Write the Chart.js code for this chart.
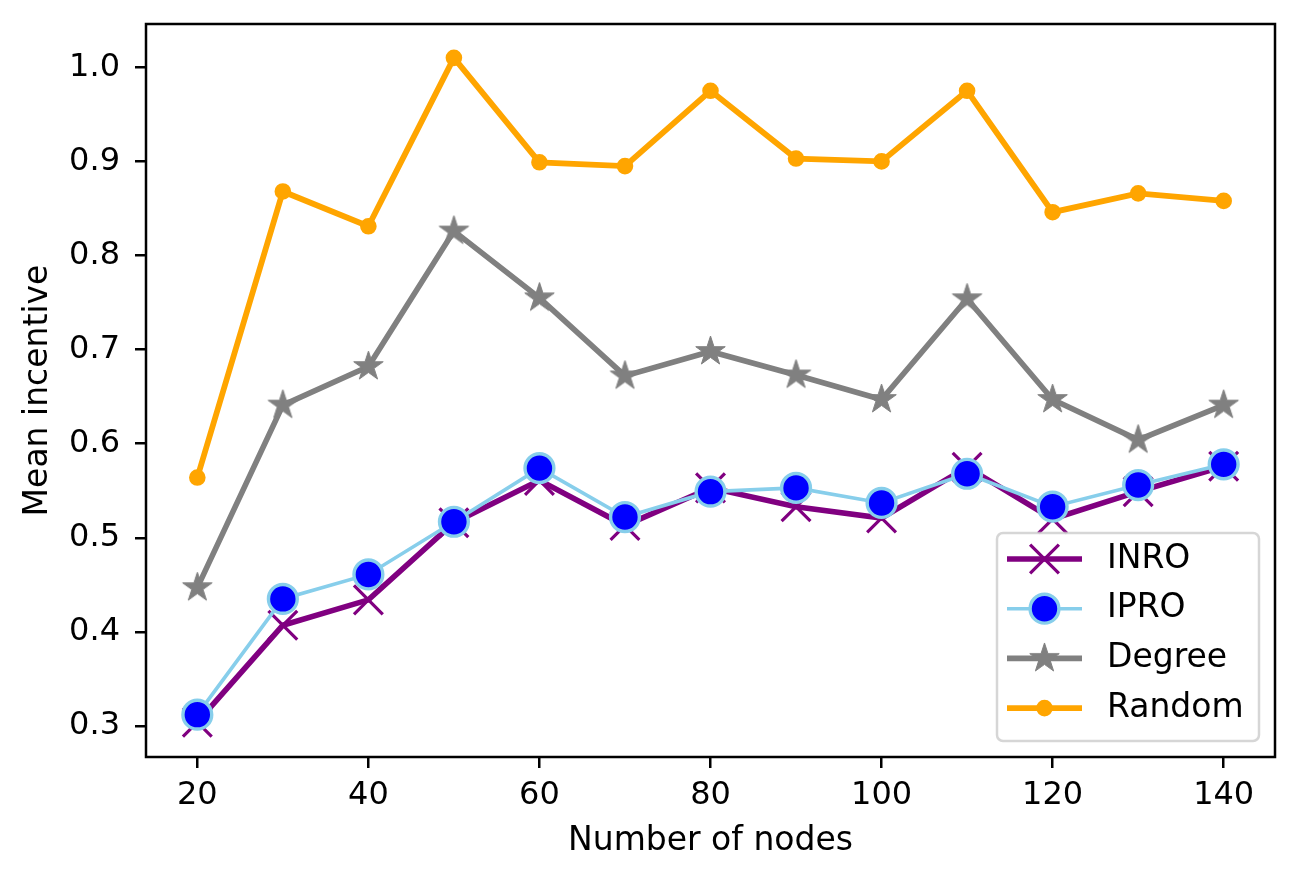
<!DOCTYPE html>
<html>
<head>
<meta charset="utf-8">
<script src="https://cdn.jsdelivr.net/npm/chart.js@4.4.1/dist/chart.umd.min.js"></script>
<style>
html,body{margin:0;padding:0;background:#fff;}
#wrap{width:1295px;height:879px;position:relative;}
</style>
</head>
<body>
<div id="wrap"><canvas id="c" width="1295" height="879"></canvas></div>
<script>
// ---- data ----
const nodes  = [20, 30, 40, 50, 60, 70, 80, 90, 100, 110, 120, 130, 140];
const inro   = [0.304, 0.407, 0.434, 0.516, 0.561, 0.513, 0.553, 0.533, 0.521, 0.575, 0.520, 0.549, 0.576];
const ipro   = [0.312, 0.435, 0.461, 0.517, 0.574, 0.522, 0.549, 0.553, 0.537, 0.568, 0.533, 0.556, 0.578];
const degree = [0.447, 0.641, 0.682, 0.826, 0.755, 0.672, 0.698, 0.673, 0.647, 0.754, 0.647, 0.604, 0.641];
const random = [0.564, 0.868, 0.831, 1.010, 0.899, 0.895, 0.975, 0.903, 0.900, 0.975, 0.846, 0.866, 0.858];
const xTicks = [20, 40, 60, 80, 100, 120, 140];
const yTicks = [0.3, 0.4, 0.5, 0.6, 0.7, 0.8, 0.9, 1.0];
const seriesNames = ['INRO', 'IPRO', 'Degree', 'Random'];
const xTitle = 'Number of nodes';
const yTitle = 'Mean incentive';

const FONT = 'DejaVu Sans';

function makeStar(R, color) {
  const size = Math.ceil(R * 2 + 6);
  const c = document.createElement('canvas');
  c.width = size; c.height = size;
  const g = c.getContext('2d');
  const cx = size / 2, cy = size / 2, r = R * 0.381966;
  g.beginPath();
  for (let i = 0; i < 10; i++) {
    const a = -Math.PI / 2 + i * Math.PI / 5;
    const rr = (i % 2) ? r : R;
    g.lineTo(cx + rr * Math.cos(a), cy + rr * Math.sin(a));
  }
  g.closePath();
  g.fillStyle = color; g.fill();
  g.lineWidth = 1; g.strokeStyle = color; g.stroke();
  return c;
}
const starImg = makeStar(15.5, '#808080');

const styles = {
  INRO:   {line: '#800080', lw: 5.6, marker: 'x', mr: 14.4, mfill: '#800080', medge: '#800080', mew: 3.2, order: 4},
  IPRO:   {line: '#87CEEB', lw: 3.6, marker: 'o', mr: 14.4, mfill: '#0000FF', medge: '#87CEEB', mew: 3.4, order: 3},
  Degree: {line: '#808080', lw: 5.6, marker: 'star', mr: 15.5, mfill: '#808080', medge: '#808080', mew: 1, order: 2},
  Random: {line: '#FFA500', lw: 5.8, marker: 'o', mr: 7, mfill: '#FFA500', medge: '#FFA500', mew: 2.6, order: 1}
};
const seriesValues = {INRO: inro, IPRO: ipro, Degree: degree, Random: random};

function chartPointStyle(s) {
  if (s.marker === 'x') return 'crossRot';
  if (s.marker === 'star') return starImg;
  return 'circle';
}
function chartPointRadius(s) {
  if (s.marker === 'x') return s.mr / Math.SQRT1_2;
  return s.mr;
}

const datasets = seriesNames.map(name => {
  const s = styles[name];
  const vals = seriesValues[name];
  return {
    label: name,
    data: nodes.map((x, i) => ({x: x, y: vals[i]})),
    borderColor: s.line,
    backgroundColor: s.line,
    borderWidth: s.lw,
    tension: 0,
    fill: false,
    pointStyle: chartPointStyle(s),
    pointRadius: chartPointRadius(s),
    pointHoverRadius: chartPointRadius(s),
    pointBackgroundColor: s.mfill,
    pointBorderColor: s.medge,
    pointBorderWidth: s.mew,
    pointHoverBorderWidth: s.mew,
    order: s.order,
    clip: false
  };
});

function drawMarker(ctx, s, x, y) {
  ctx.save();
  if (s.marker === 'x') {
    ctx.strokeStyle = s.medge; ctx.lineWidth = s.mew; ctx.lineCap = 'butt';
    ctx.beginPath();
    ctx.moveTo(x - s.mr, y - s.mr); ctx.lineTo(x + s.mr, y + s.mr);
    ctx.moveTo(x + s.mr, y - s.mr); ctx.lineTo(x - s.mr, y + s.mr);
    ctx.stroke();
  } else if (s.marker === 'star') {
    ctx.drawImage(starImg, x - starImg.width / 2, y - starImg.height / 2);
  } else {
    ctx.beginPath(); ctx.arc(x, y, s.mr, 0, Math.PI * 2);
    ctx.fillStyle = s.mfill; ctx.fill();
    ctx.lineWidth = s.mew; ctx.strokeStyle = s.medge; ctx.stroke();
  }
  ctx.restore();
}

function roundRectPath(ctx, x, y, w, h, r) {
  ctx.beginPath();
  ctx.moveTo(x + r, y);
  ctx.lineTo(x + w - r, y); ctx.arcTo(x + w, y, x + w, y + r, r);
  ctx.lineTo(x + w, y + h - r); ctx.arcTo(x + w, y + h, x + w - r, y + h, r);
  ctx.lineTo(x + r, y + h); ctx.arcTo(x, y + h, x, y + h - r, r);
  ctx.lineTo(x, y + r); ctx.arcTo(x, y, x + r, y, r);
  ctx.closePath();
}

const framePlugin = {
  id: 'frameAndLegend',
  afterDatasetsDraw(chart) {
    const {ctx, chartArea: a} = chart;
    ctx.save();
    ctx.strokeStyle = '#000'; ctx.lineWidth = 2.5;
    ctx.strokeRect(a.left, a.top, a.right - a.left, a.bottom - a.top);
    ctx.restore();
  },
  afterDraw(chart) {
    const {ctx, chartArea: a} = chart;
    const w = 262, h = 208;
    const bx = a.right - 16 - w, by = a.bottom - 16 - h;
    ctx.save();
    roundRectPath(ctx, bx, by, w, h, 6);
    ctx.fillStyle = 'rgba(255,255,255,0.8)'; ctx.fill();
    ctx.lineWidth = 2.5; ctx.strokeStyle = 'rgba(204,204,204,0.8)'; ctx.stroke();
    seriesNames.forEach((name, i) => {
      const s = styles[name];
      const y = by + 26 + i * 49.7;
      ctx.beginPath();
      ctx.moveTo(bx + 10, y); ctx.lineTo(bx + 85, y);
      ctx.strokeStyle = s.line; ctx.lineWidth = s.lw; ctx.lineCap = 'butt'; ctx.stroke();
      drawMarker(ctx, s, bx + 47.5, y);
      ctx.fillStyle = '#000';
      ctx.font = '33px "' + FONT + '"';
      ctx.textBaseline = 'middle'; ctx.textAlign = 'left';
      ctx.fillText(name, bx + 110, y);
    });
    ctx.restore();
  }
};

const tickFont = {family: FONT, size: 32};
const titleFont = {family: FONT, size: 33};
const gridOpts = {drawOnChartArea: false, drawTicks: true, tickLength: 11, tickWidth: 2.5, tickColor: '#000', color: '#000', lineWidth: 2.5};

function zeroPad(s) { s.paddingTop = 0; s.paddingBottom = 0; s.paddingLeft = 0; s.paddingRight = 0; }

new Chart(document.getElementById('c'), {
  type: 'line',
  data: {datasets: datasets},
  options: {
    responsive: false,
    animation: false,
    events: [],
    layout: {padding: {top: 24, right: 20, left: 0, bottom: 0}, autoPadding: false},
    plugins: {legend: {display: false}, tooltip: {enabled: false}},
    scales: {
      x: {
        type: 'linear', position: 'bottom', min: 14, max: 146,
        afterBuildTicks: s => { s.ticks = xTicks.map(v => ({value: v})); },
        afterFit: s => { s.height = 122; zeroPad(s); },
        grid: gridOpts,
        border: {display: false},
        ticks: {font: tickFont, color: '#000', padding: 8, maxRotation: 0, autoSkip: false,
                callback: v => String(v)},
        title: {display: true, text: xTitle, font: titleFont, color: '#000',
                padding: {top: 0, bottom: 18}}
      },
      y: {
        type: 'linear', position: 'left', min: 0.267, max: 1.046,
        afterBuildTicks: s => { s.ticks = yTicks.map(v => ({value: v})); },
        afterFit: s => { s.width = 146; zeroPad(s); },
        grid: gridOpts,
        border: {display: false},
        ticks: {font: tickFont, color: '#000', padding: 15, autoSkip: false,
                callback: v => Number(v).toFixed(1)},
        title: {display: true, text: yTitle, font: titleFont, color: '#000',
                padding: {top: 19, bottom: 0}}
      }
    }
  },
  plugins: [framePlugin]
});
</script>
</body>
</html>
